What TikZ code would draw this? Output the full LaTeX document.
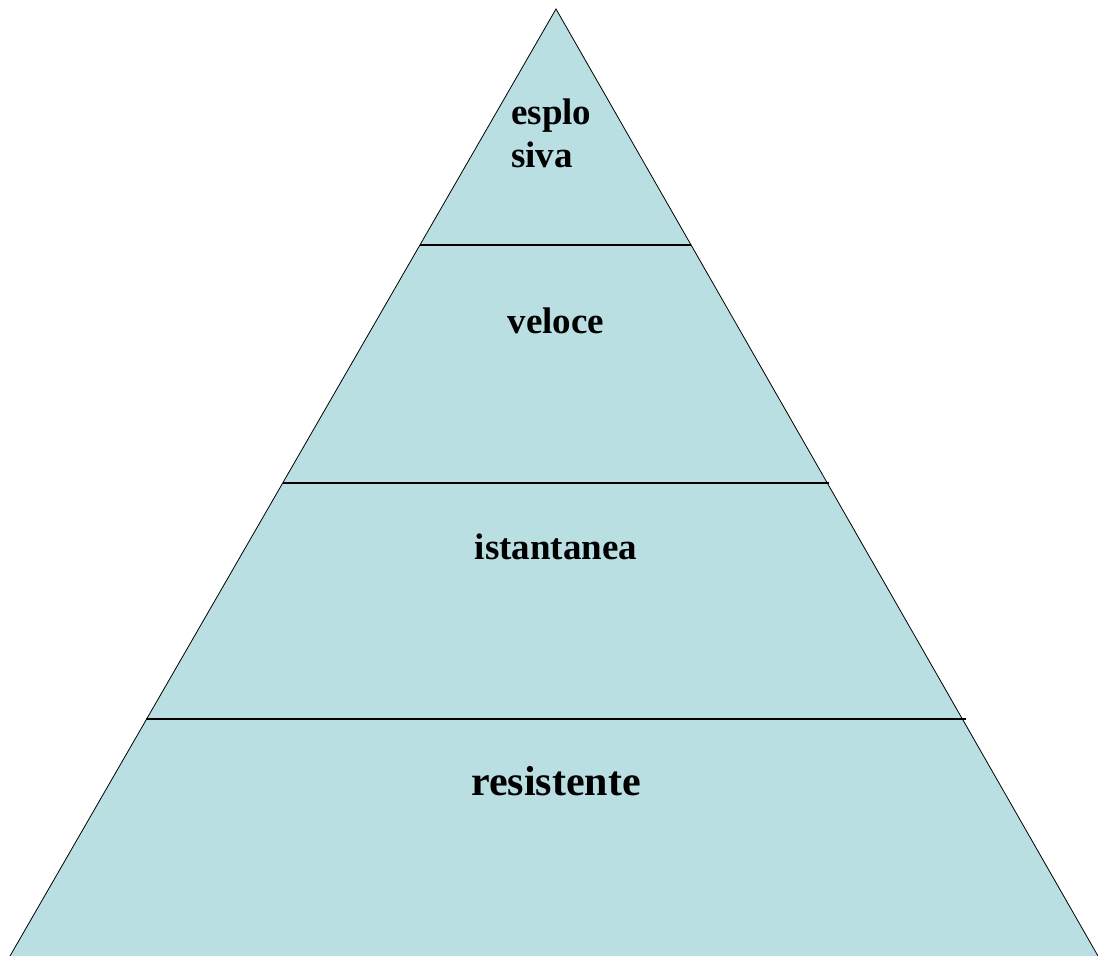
\documentclass[tikz,border=0pt]{standalone}
\usepackage{fontspec}
\setmainfont{Liberation Serif}
\definecolor{layerfill}{RGB}{186,223,227}

\begin{document}
\begin{tikzpicture}[x=1pt,y=-1pt]

    \tikzset{label/.style={font=\fontsize{37}{42}\selectfont\bfseries,inner sep=0pt,anchor=base},
             divider/.style={line width=1.3pt}}
    \useasboundingbox (0,0) rectangle (1098,956);

    \coordinate (top) at (556,9);
    \coordinate (bl) at (10,956);
    \coordinate (br) at (1098,956);

    \coordinate (l1) at (420,245);
    \coordinate (r1) at (691,245);
    \coordinate (l2) at (283,483);
    \coordinate (r2) at (829,483);
    \coordinate (l3) at (146,719);
    \coordinate (r3) at (966,719);

    \fill[layerfill] (top) -- (bl) -- (br) -- cycle;
    \draw[line width=0.8pt] (bl) -- (top) -- (br);

    \draw[divider] (l1) -- (r1);
    \draw[divider] (l2) -- (r2);
    \draw[divider] (l3) -- (r3);

    \node[label,anchor=base west] (t1) at (511,124) {esplo};
    \node[label,anchor=base west] (t1b) at (511,167) {siva};
    \node[label] (t2) at (556,333) {veloce};
    \node[label] (t3) at (556,559) {istantanea};
    \node[label,font=\fontsize{42}{48}\selectfont\bfseries] (t4) at (556,795) {resistente};

\end{tikzpicture}
\end{document}
